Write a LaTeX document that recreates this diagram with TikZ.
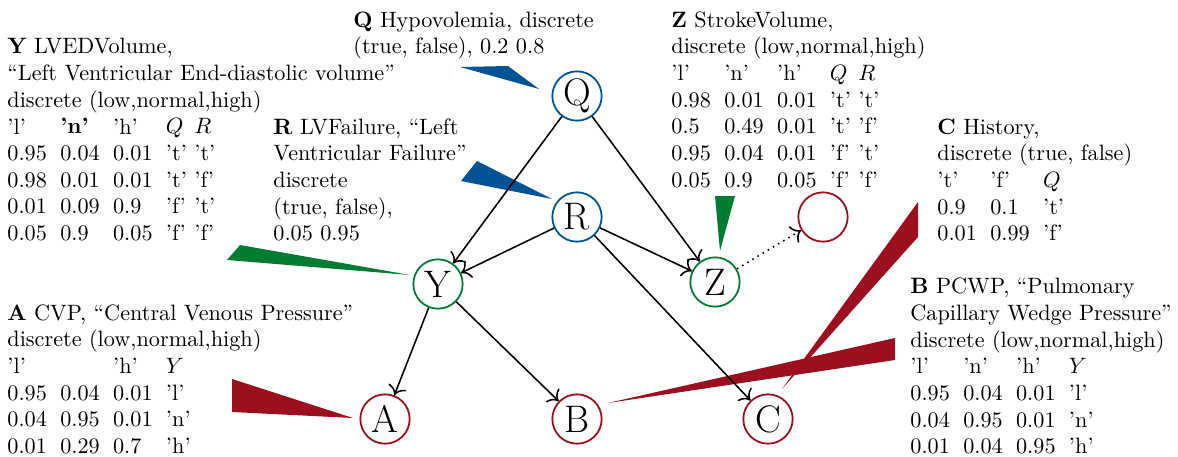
\documentclass[tikz,border=0pt]{standalone}
\usetikzlibrary{arrows.meta}
\definecolor{netblue}{RGB}{0,84,150}
\definecolor{netgreen}{RGB}{0,125,50}
\definecolor{netred}{RGB}{155,15,30}
\setlength{\tabcolsep}{3pt}
\tikzset{
  var/.style={circle, draw, line width=0.8pt, minimum size=22.2pt, inner sep=0pt, font=\LARGE},
  cpt/.style={anchor=base west, inner sep=0pt},
  dep/.style={-{To[scale=1.3]}, line width=0.7pt}
}

\begin{document}
\begin{tikzpicture}[x=0.45pt, y=-0.45pt]
          \useasboundingbox (0,0) rectangle (1178,457);

          \fill[netblue] (460,67) -- (508,66) -- (539,89) -- cycle;
          \fill[netblue] (477,161) -- (461,181) -- (552,199) -- cycle;
          \fill[netgreen] (227,260) -- (240,245) -- (410,275) -- cycle;
          \fill[netgreen] (715,196) -- (735,196) -- (720,251) -- cycle;
          \fill[netred] (232,379) -- (232,412) -- (353,418) -- cycle;
          \fill[netred] (895,338) -- (895,360) -- (608,403) -- cycle;
          \fill[netred] (918,202) -- (918,237) -- (782,389) -- cycle;

          \node[var, draw=netblue] (Q) at (577,96) {Q};
          \node[var, draw=netblue] (R) at (577,217) {R};
          \node[var, draw=netgreen] (Y) at (438,284) {Y};
          \node[var, draw=netgreen] (Z) at (715,282) {Z};
          \node[var, draw=netred] (X) at (823,217) {};
          \node[var, draw=netred] (A) at (385,419) {A};
          \node[var, draw=netred] (B) at (577,419) {B};
          \node[var, draw=netred] (C) at (768,419) {C};

          \node[cpt] (qtext) at (353,27) {\begin{tabular}[t]{@{}l@{}}
            \textbf{Q} Hypovolemia, discrete\\
            (true, false), 0.2 0.8
          \end{tabular}};
          \node[cpt] (rtext) at (273,134) {\begin{tabular}[t]{@{}l@{}}
            \textbf{R} LVFailure, “Left\\
            Ventricular Failure”\\
            discrete\\
            (true, false),\\
            0.05 0.95
          \end{tabular}};
          \node[cpt] (ytext) at (7,54) {\begin{tabular}[t]{@{}llll@{\ }l@{}}
            \multicolumn{5}{@{}l@{}}{\textbf{Y} LVEDVolume,}\\
            \multicolumn{5}{@{}l@{}}{“Left Ventricular End-diastolic volume”}\\
            \multicolumn{5}{@{}l@{}}{discrete (low,normal,high)}\\
            ’l’ & \textbf{’n’} & ’h’ & $Q$ & $R$\\
            0.95 & 0.04 & 0.01 & ’t’ & ’t’\\
            0.98 & 0.01 & 0.01 & ’t’ & ’f’\\
            0.01 & 0.09 & 0.9 & ’f’ & ’t’\\
            0.05 & 0.9 & 0.05 & ’f’ & ’f’
          \end{tabular}};
          \node[cpt] (ztext) at (671,27) {\begin{tabular}[t]{@{}llll@{\ }l@{}}
            \multicolumn{5}{@{}l@{}}{\textbf{Z} StrokeVolume,}\\
            \multicolumn{5}{@{}l@{}}{discrete (low,normal,high)}\\
            ’l’ & ’n’ & ’h’ & $Q$ & $R$\\
            0.98 & 0.01 & 0.01 & ’t’ & ’t’\\
            0.5 & 0.49 & 0.01 & ’t’ & ’f’\\
            0.95 & 0.04 & 0.01 & ’f’ & ’t’\\
            0.05 & 0.9 & 0.05 & ’f’ & ’f’
          \end{tabular}};
          \node[cpt] (ctext) at (937,134) {\begin{tabular}[t]{@{}lll@{}}
            \multicolumn{3}{@{}l@{}}{\textbf{C} History,}\\
            \multicolumn{3}{@{}l@{}}{discrete (true, false)}\\
            ’t’ & ’f’ & $Q$\\
            0.9 & 0.1 & ’t’\\
            0.01 & 0.99 & ’f’
          \end{tabular}};
          \node[cpt] (atext) at (7,320.3) {\begin{tabular}[t]{@{}llll@{}}
            \multicolumn{4}{@{}l@{}}{\textbf{A} CVP, “Central Venous Pressure”}\\
            \multicolumn{4}{@{}l@{}}{discrete (low,normal,high)}\\
            ’l’ & & ’h’ & $Y$\\
            0.95 & 0.04 & 0.01 & ’l’\\
            0.04 & 0.95 & 0.01 & ’n’\\
            0.01 & 0.29 & 0.7 & ’h’
          \end{tabular}};
          \node[cpt] (btext) at (910,293.7) {\begin{tabular}[t]{@{}llll@{}}
            \multicolumn{4}{@{}l@{}}{\textbf{B} PCWP, “Pulmonary}\\
            \multicolumn{4}{@{}l@{}}{Capillary Wedge Pressure”}\\
            \multicolumn{4}{@{}l@{}}{discrete (low,normal,high)}\\
            ’l’ & ’n’ & ’h’ & $Y$\\
            0.95 & 0.04 & 0.01 & ’l’\\
            0.04 & 0.95 & 0.01 & ’n’\\
            0.01 & 0.04 & 0.95 & ’h’
          \end{tabular}};

          \draw[dep] (Q) -- (Y);
          \draw[dep] (Q) -- (Z);
          \draw[dep] (R) -- (Y);
          \draw[dep] (R) -- (Z);
          \draw[dep] (R) -- (C);
          \draw[dep] (Y) -- (A);
          \draw[dep] (Y) -- (B);
          \draw[dep, dotted] (Z) -- (X);
    \end{tikzpicture}
\end{document}
